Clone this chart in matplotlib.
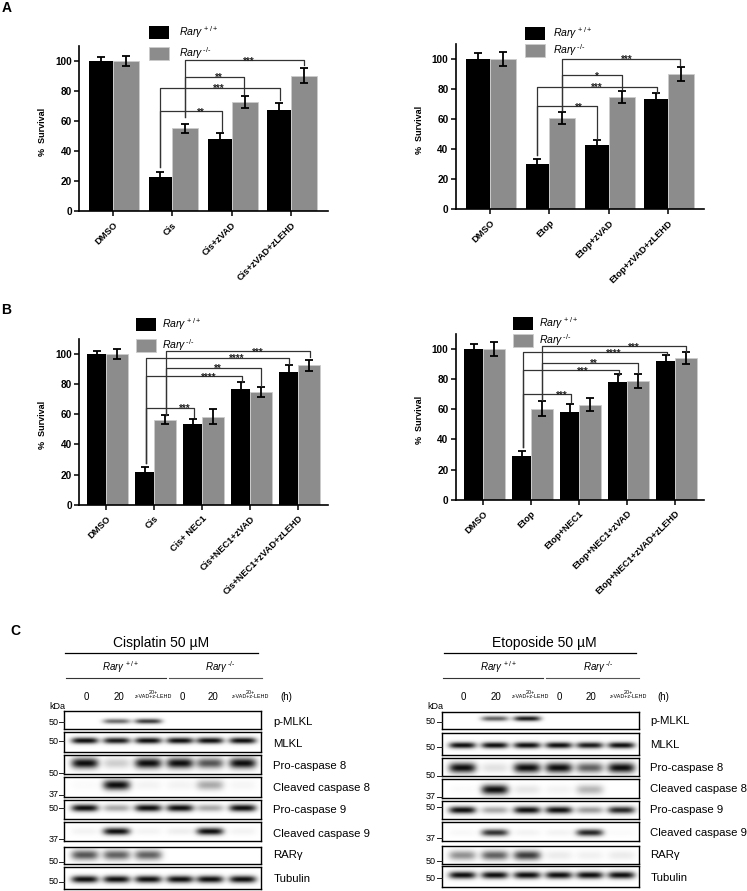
import numpy as np
import matplotlib
matplotlib.use("Agg")
import matplotlib.pyplot as plt

plt.rcParams['font.family'] = ['Liberation Sans', 'DejaVu Sans']
plt.rcParams['mathtext.fontset'] = 'custom'
plt.rcParams['mathtext.rm'] = 'Liberation Sans'
plt.rcParams['mathtext.it'] = 'Liberation Sans:italic'
plt.rcParams['mathtext.default'] = 'it'

W, H = 747, 891

# survival data, values
a1_labels = ['DMSO', 'Cis', 'Cis+zVAD', 'Cis+zVAD+zLEHD']
a1_black = [100, 22.5, 48, 67.5]
a1_gray = [100, 55, 72.5, 90]
a1_black_err = [2.2, 3.6, 3.8, 4.6]
a1_gray_err = [3.3, 3, 4, 5]
# start x, end x, level, start low, end low, stars, stars x
a1_brackets = [(0.80, 1.83, 66.6, 29.6, 53, '**', 1.48),
               (0.80, 2.81, 82, 29.6, 74, '***', 1.79),
               (1.21, 2.21, 89.4, 62.8, 77.6, '**', 1.78),
               (1.21, 3.22, 100.2, 62.8, 97, '***', 2.29)]

a2_labels = ['DMSO', 'Etop', 'Etop+zVAD', 'Etop+zVAD+zLEHD']
a2_black = [100, 30, 43, 73]
a2_gray = [100, 60.5, 74.5, 90]
a2_black_err = [3.5, 3.4, 3, 4.4]
a2_gray_err = [4.6, 3.8, 4, 4.7]
a2_brackets = [(0.80, 1.81, 68.6, 36, 47, '**', 1.50),
               (0.80, 2.82, 81.4, 36, 77.4, '***', 1.80),
               (1.22, 2.22, 89, 66, 79.6, '*', 1.80),
               (1.22, 3.20, 100, 66, 96, '***', 2.30)]

b1_labels = ['DMSO', 'Cis', 'Cis+ NEC1', 'Cis+NEC1+zVAD', 'Cis+NEC1+zVAD+zLEHD']
b1_black = [100, 21.5, 53.5, 77, 88]
b1_gray = [100, 56.5, 58.5, 75, 92.5]
b1_black_err = [2, 3.3, 3.4, 4.4, 4.9]
b1_gray_err = [3.5, 3, 4.8, 3.3, 3.7]
b1_brackets = [(0.83, 1.83, 64.4, 27.4, 58, '***', 1.63),
               (0.83, 2.83, 85.2, 27.4, 81.6, '****', 2.13),
               (0.83, 3.82, 97.6, 27.4, 93.4, '****', 2.73),
               (1.24, 3.22, 91, 59.5, 78.8, '**', 2.33),
               (1.24, 4.24, 101.8, 59.5, 97.8, '***', 3.16)]

b2_labels = ['DMSO', 'Etop', 'Etop+NEC1', 'Etop+NEC1+zVAD', 'Etop+NEC1+zVAD+zLEHD']
b2_black = [100, 29, 58.5, 78, 92]
b2_gray = [100, 60.5, 63, 79, 94]
b2_black_err = [3.5, 3, 4.8, 5.2, 4]
b2_gray_err = [4.6, 5, 4.3, 4.6, 3.8]
b2_brackets = [(0.83, 1.83, 70, 35.2, 65, '***', 1.63),
               (0.83, 2.83, 85.8, 35.2, 82.7, '***', 2.07),
               (0.83, 3.83, 98, 35.2, 96, '****', 2.72),
               (1.23, 3.22, 91, 66, 84, '**', 2.31),
               (1.23, 4.22, 101.8, 66, 98, '***', 3.15)]

# western blots, band strength per lane (0 = none, 1 = darkest)
blot_names = ['p-MLKL', 'MLKL', 'Pro-caspase 8', 'Cleaved caspase 8',
              'Pro-caspase 9', 'Cleaved caspase 9', 'RARγ', 'Tubulin']
cis_bands = [[0, .6, .8, 0, 0, 0],
             [1, .95, 1, 1, 1, 1],
             [1, .2, 1, 1, .7, 1],
             [.02, 1, .05, .05, .35, .04],
             [1, .35, 1, 1, .35, 1],
             [.05, 1, .05, .07, 1, .05],
             [.7, .65, .65, 0, 0, 0],
             [1, 1, 1, 1, 1, 1]]
eto_bands = [[0, .65, .95, 0, 0, 0],
             [1, 1, 1, 1, .95, 1],
             [1, .12, 1, 1, .65, 1],
             [.02, 1, .1, .05, .3, 0],
             [1, .35, 1, 1, .4, .9],
             [.03, .85, .05, .05, .9, .02],
             [.45, .65, .8, .08, .06, .08],
             [1, 1, 1, 1, 1, 1]]
cis_marks = ['50', '50', '50', '37', '50', '37', '50', '50']
eto_marks = ['50', '50', '50', '37', '50', '37', '50', '50']
band_thick = [2.6, 3.2, 5, 5, 3.6, 3.6, 4.8, 3.6]


def px_axes(left, top, right, bottom):
    return fig.add_axes([left / W, 1 - bottom / H, (right - left) / W, (bottom - top) / H])


def bar_panel(box, y100, x0, step, bw, gw, labels, black, gray, black_err, gray_err, brackets, label_x, leg):
    left, top, right, bottom = box
    ax = px_axes(left, top, right, bottom)
    ax.patch.set_alpha(0)
    xs = np.arange(len(labels))
    ax.set_xlim((left - x0) / step, (right - x0) / step)
    ax.set_ylim(0, (bottom - top) / (bottom - y100) * 100)
    ek = dict(ecolor='black', elinewidth=1.3, capsize=2.9, capthick=1.3)
    b1 = ax.bar(xs - bw / 2 / step, black, bw / step, color='black', yerr=black_err, error_kw=ek)
    b2 = ax.bar(xs + gw / 2 / step, gray, gw / step, color='#8c8c8c', edgecolor='#cccccc',
                linewidth=0.6, yerr=gray_err, error_kw=ek)
    for x1, x2, level, low1, low2, stars, sx in brackets:
        ax.plot([x1, x1, x2, x2], [low1, level, level, low2], color='#333333', lw=0.9, clip_on=False, zorder=4)
        ax.text(sx, level - 1, stars, ha='center', va='center', fontsize=7, fontweight='bold', color='#222222', zorder=5)
    for s in ['top', 'right']:
        ax.spines[s].set_visible(False)
    for s in ['left', 'bottom']:
        ax.spines[s].set_linewidth(1.2)
    ax.set_yticks([0, 20, 40, 60, 80, 100])
    ax.set_xticks(xs)
    ax.set_xticklabels(labels, rotation=45, ha='right', rotation_mode='anchor', fontsize=6.7, fontweight='bold')
    ax.tick_params(axis='both', width=1.1, length=3.6)
    ax.tick_params(axis='y', labelsize=7.2, pad=1.5)
    ax.tick_params(axis='x', pad=3)
    for t in ax.get_yticklabels():
        t.set_fontweight('bold')
    ax.set_ylabel('%  Survival', fontsize=6.5, fontweight='bold')
    ax.yaxis.set_label_coords((label_x - left) / (right - left), 0.48)
    ax.legend([b1, b2], [r'$\mathregular{\mathit{Rar}}\gamma^{\,+/+}$', r'$\mathregular{\mathit{Rar}}\gamma^{\,\text{-/-}}$'],
              loc='upper left', bbox_to_anchor=(leg[0] / W, 1 - leg[1] / H), bbox_transform=fig.transFigure,
              frameon=False, fontsize=7.6, handlelength=1.9, handleheight=1.5, handletextpad=leg[3],
              labelspacing=leg[2], borderpad=0, borderaxespad=0)
    return ax


def blot(box, lanes, bands, thick, y_frac):
    left, top, right, bottom = box
    ax = px_axes(left, top, right, bottom)
    xx, yy = np.meshgrid(np.linspace(left, right, 400), np.linspace(top, bottom, 60))
    img = np.zeros_like(xx)
    yc = top + y_frac * (bottom - top)
    for lx, v in zip(lanes, bands):
        img += v * np.exp(-np.abs((xx - lx) / 13.5) ** 4) * np.exp(-((yy - yc) / thick) ** 2)
    ax.imshow(1 - 0.95 * np.clip(img, 0, 1), cmap='gray', vmin=0, vmax=1, aspect='auto',
              extent=(left, right, bottom, top), interpolation='bilinear')
    ax.set_xticks([])
    ax.set_yticks([])
    for s in ax.spines.values():
        s.set_linewidth(1.0)
    return ax


fig = plt.figure(figsize=(W / 100, H / 100), dpi=100)

bar_panel((79, 46, 328, 211.3), 60.7, 113, 59.3, 23.7, 26, a1_labels, a1_black, a1_gray, a1_black_err, a1_gray_err,
          a1_brackets, 47, (149, 24, 0.5, 0.95))
bar_panel((455.7, 44, 704, 209.3), 58.7, 490, 59.3, 23.7, 26, a2_labels, a2_black, a2_gray, a2_black_err, a2_gray_err,
          a2_brackets, 423.7, (525.3, 25, 0.1, 0.72))
bar_panel((79, 339.3, 327.7, 504.7), 354, 106, 48, 18.7, 21.7, b1_labels, b1_black, b1_gray, b1_black_err, b1_gray_err,
          b1_brackets, 47, (136, 316.3, 0.45, 0.6))
bar_panel((455.7, 334.3, 704, 499.7), 349, 483, 48, 18.7, 21.7, b2_labels, b2_black, b2_gray, b2_black_err, b2_gray_err,
          b2_brackets, 423.7, (513.3, 315.3, 0.1, 0.5))

# blot boxes, in pixels from the picture
cis_rows = [(711.3, 729.3), (732, 752), (755.3, 774.3), (777.3, 796.7), (800, 819.3), (822, 841.3), (846.7, 864), (867, 889.3)]
eto_rows = [(711.7, 729.3), (732.7, 754.7), (757.7, 776.3), (779.3, 798.3), (800.7, 819.3), (821.7, 840.7), (845.7, 863.7), (865.7, 887.3)]
cis_lanes = [85, 116.7, 148.3, 180, 210, 242.7]
eto_lanes = [462.3, 494.7, 527, 558.7, 589.7, 621.3]
cis_yfrac = [.57, .43, .46, .40, .45, .52, .50, .58]
eto_yfrac = [.42, .56, .57, .56, .53, .56, .52, .46]

for i in range(8):
    blot((64.3, cis_rows[i][0], 260.7, cis_rows[i][1]), cis_lanes, cis_bands[i], band_thick[i], cis_yfrac[i])
    blot((442, eto_rows[i][0], 638.7, eto_rows[i][1]), eto_lanes, eto_bands[i], band_thick[i], eto_yfrac[i])

# layer in pixel coords for panel letters and blot annotation
ov = fig.add_axes([0, 0, 1, 1], zorder=10)
ov.set_xlim(0, W)
ov.set_ylim(H, 0)
ov.axis('off')

ov.text(1.5, 7.5, 'A', fontsize=10, fontweight='bold', va='center')
ov.text(1.5, 310, 'B', fontsize=10, fontweight='bold', va='center')
ov.text(10, 631, 'C', fontsize=10, fontweight='bold', va='center')


def blot_header(title, tx, lines, rar_x, lane_x, h_x, name_x, name_y, mark_y, mark_x, marks):
    ov.text(tx, 642.5, title, fontsize=10, ha='center', va='center')
    ov.plot(lines[0], [652.5, 652.5], color='black', lw=0.9)
    ov.text(rar_x[0], 667, r'$\mathregular{\mathit{Rar}}\gamma^{\,+/+}$', fontsize=7, ha='center', va='center')
    ov.text(rar_x[1], 667, r'$\mathregular{\mathit{Rar}}\gamma^{\,\text{-/-}}$', fontsize=7, ha='center', va='center')
    ov.plot(lines[1], [677.5, 677.5], color='#333333', lw=0.8)
    ov.plot(lines[2], [677.5, 677.5], color='#555555', lw=0.8)
    for x, t in zip(lane_x, ['0', '20', '20+\nz-VAD+z-LEHD', '0', '20', '20+\nz-VAD+z-LEHD']):
        big = len(t) < 3
        ov.text(x, 697 if big else 694.5, t, fontsize=7 if big else 3.9, ha='center', va='center', linespacing=1.0)
    ov.text(h_x, 697.5, '(h)', fontsize=7, ha='center', va='center')
    for n, y in zip(blot_names, name_y):
        ov.text(name_x, y, n, fontsize=8.2, ha='left', va='center')
    ov.text(mark_x - 7, 706.5, 'kDa', fontsize=6.5, ha='center', va='center')
    for m, y in zip(marks, mark_y):
        ov.text(mark_x - 6, y, m, fontsize=6.5, ha='right', va='center')
        ov.plot([mark_x - 5, mark_x], [y, y], color='#222222', lw=0.7)


blot_header('Cisplatin 50 µM', 161.5, [[65, 258.3], [66, 166], [168.7, 261.7]], [120, 220],
            [86.7, 119.3, 153.3, 182.7, 213.3, 250], 286, 273.3,
            [721.7, 743.7, 766.3, 787.7, 809.7, 834, 855.3, 879.3],
            [722.3, 741.3, 773, 794.7, 808.3, 839.3, 862, 881.7], 64.3, cis_marks)
blot_header('Etoposide 50 µM', 544.7, [[444, 636.3], [443, 543.3], [545.7, 638.7]], [498, 598],
            [463.7, 495.7, 530.3, 559.7, 590.7, 628], 663, 650.3,
            [721.3, 744.7, 767.7, 789, 809.7, 832.7, 855, 878],
            [721.7, 747.3, 776, 796.7, 807.3, 838.3, 861, 878.3], 442, eto_marks)

fig.savefig('out.png', dpi=100)
